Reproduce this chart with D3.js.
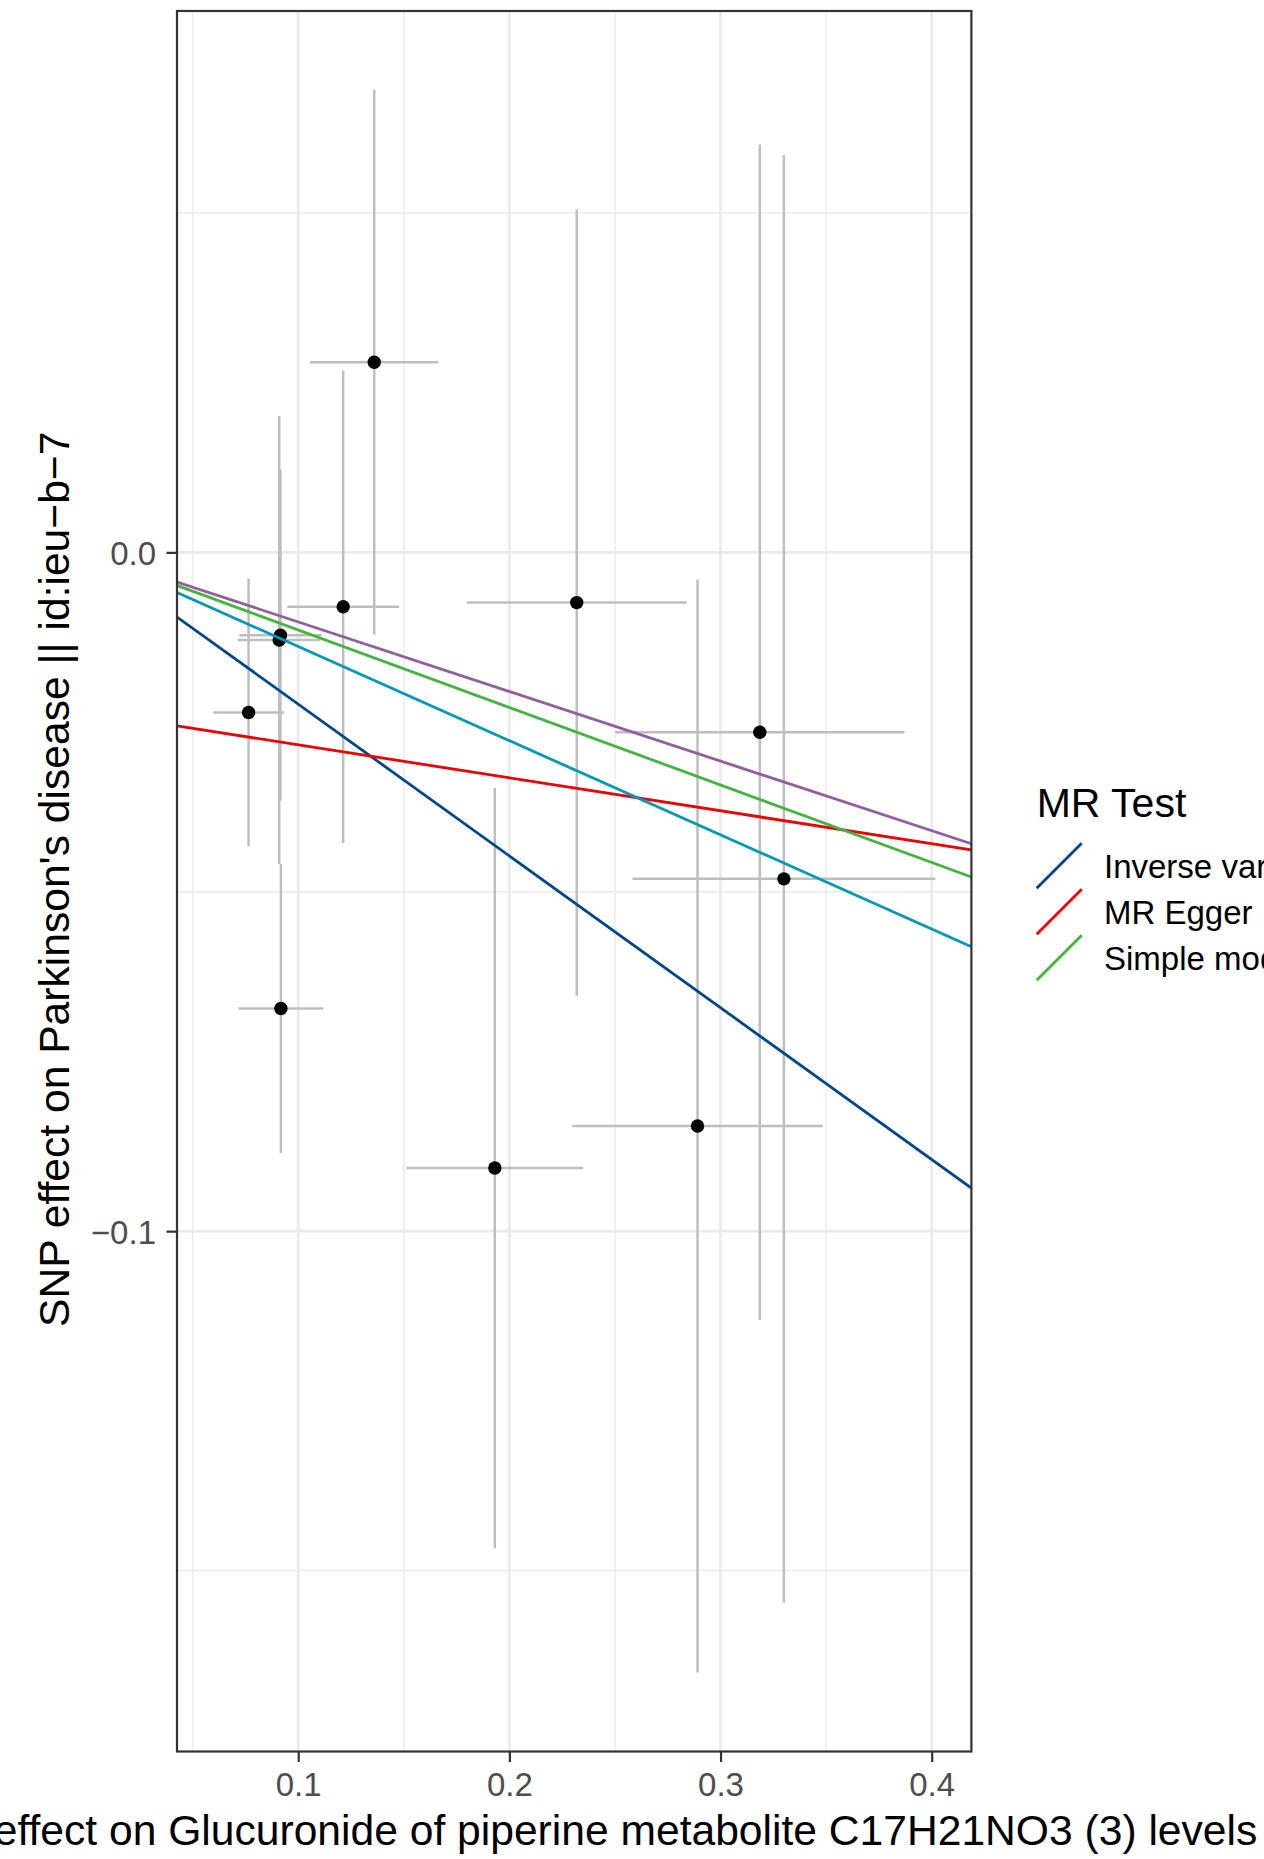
<!DOCTYPE html>
<html>
<head>
<meta charset="utf-8">
<script src="https://cdn.jsdelivr.net/npm/d3@7"></script>
<style>
  html, body { margin: 0; padding: 0; background: #ffffff; overflow: hidden; }
  svg { display: block; font-family: "Liberation Sans", Arial, sans-serif; }
</style>
</head>
<body>
<svg id="chart" width="1264" height="1859"></svg>
<script>
// ---------------- data ----------------
const methods    = ["Inverse variance weighted", "MR Egger", "Simple mode", "Weighted median", "Weighted mode"];
const intercepts = [0, -0.0235, 0, 0, 0];
const slopes     = [-0.2236, -0.04855, -0.1142, -0.1387, -0.1025];
const methodColors = ["#00468B", "#ED0000", "#42B540", "#0099B4", "#925E9F"];

const betaExposure = [0.1360, 0.1213, 0.0910, 0.0916, 0.0765, 0.2319, 0.3186, 0.3300, 0.0918, 0.1931, 0.2891];
const seExposure   = [0.0304, 0.0265, 0.0196, 0.0195, 0.0168, 0.0521, 0.0685, 0.0717, 0.0200, 0.0419, 0.0593];
const betaOutcome  = [0.0280, -0.0080, -0.0129, -0.0122, -0.0236, -0.0074, -0.0265, -0.0481, -0.0672, -0.0907, -0.0845];
const seOutcome    = [0.0401, 0.0348, 0.0330, 0.0244, 0.0197, 0.0579, 0.0866, 0.1066, 0.0213, 0.0560, 0.0805];

const xMajorTicks = [0.1, 0.2, 0.3, 0.4];
const xMinorTicks = [0.05, 0.15, 0.25, 0.35];
const yMajorTicks = [-0.1, 0.0];
const yMinorTicks = [-0.15, -0.05, 0.05];

const xTitle = "SNP effect on Glucuronide of piperine metabolite C17H21NO3 (3) levels";
const yTitle = "SNP effect on Parkinson's disease || id:ieu\u2212b\u22127";
const legendTitle = "MR Test";

// ---------------- layout ----------------
const W = 1264, H = 1859;
const panel = { left: 177, right: 971.4, top: 11, bottom: 1751.5 };

const svg = d3.select("#chart");
svg.append("rect").attr("width", W).attr("height", H).attr("fill", "#ffffff");

const pts = betaExposure.map((bx, i) => ({
  bx, sx: seExposure[i], by: betaOutcome[i], sy: seOutcome[i]
}));

function expand(lo, hi) { const p = (hi - lo) * 0.05; return [lo - p, hi + p]; }
const xDom = expand(d3.min(pts, d => d.bx - d.sx), d3.max(pts, d => d.bx + d.sx));
const yDom = expand(d3.min(pts, d => d.by - d.sy), d3.max(pts, d => d.by + d.sy));

const x = d3.scaleLinear().domain(xDom).range([panel.left, panel.right]);
const y = d3.scaleLinear().domain(yDom).range([panel.bottom, panel.top]);

// clip
svg.append("defs").append("clipPath").attr("id", "panelClip")
  .append("rect")
  .attr("x", panel.left).attr("y", panel.top)
  .attr("width", panel.right - panel.left).attr("height", panel.bottom - panel.top);

const gPanel = svg.append("g").attr("clip-path", "url(#panelClip)");

// grid
const gridColor = "#EBEBEB";
gPanel.selectAll(".xminor").data(xMinorTicks).enter().append("line")
  .attr("x1", d => x(d)).attr("x2", d => x(d))
  .attr("y1", panel.top).attr("y2", panel.bottom)
  .attr("stroke", gridColor).attr("stroke-width", 1.4);
gPanel.selectAll(".yminor").data(yMinorTicks).enter().append("line")
  .attr("y1", d => y(d)).attr("y2", d => y(d))
  .attr("x1", panel.left).attr("x2", panel.right)
  .attr("stroke", gridColor).attr("stroke-width", 1.4);
gPanel.selectAll(".xmajor").data(xMajorTicks).enter().append("line")
  .attr("x1", d => x(d)).attr("x2", d => x(d))
  .attr("y1", panel.top).attr("y2", panel.bottom)
  .attr("stroke", gridColor).attr("stroke-width", 2.8);
gPanel.selectAll(".ymajor").data(yMajorTicks).enter().append("line")
  .attr("y1", d => y(d)).attr("y2", d => y(d))
  .attr("x1", panel.left).attr("x2", panel.right)
  .attr("stroke", gridColor).attr("stroke-width", 2.8);

// error bars
const errColor = "#BEBEBE";
gPanel.selectAll(".ev").data(pts).enter().append("line")
  .attr("x1", d => x(d.bx)).attr("x2", d => x(d.bx))
  .attr("y1", d => y(d.by - d.sy)).attr("y2", d => y(d.by + d.sy))
  .attr("stroke", errColor).attr("stroke-width", 2.5);
gPanel.selectAll(".eh").data(pts).enter().append("line")
  .attr("y1", d => y(d.by)).attr("y2", d => y(d.by))
  .attr("x1", d => x(d.bx - d.sx)).attr("x2", d => x(d.bx + d.sx))
  .attr("stroke", errColor).attr("stroke-width", 2.5);

// points
gPanel.selectAll(".pt").data(pts).enter().append("circle")
  .attr("cx", d => x(d.bx)).attr("cy", d => y(d.by))
  .attr("r", 6.7).attr("fill", "#000000");

// ablines
const lines = methods.map((m, i) => ({ m, a: intercepts[i], b: slopes[i], c: methodColors[i] }));
gPanel.selectAll(".abl").data(lines).enter().append("line")
  .attr("x1", x(xDom[0])).attr("x2", x(xDom[1]))
  .attr("y1", d => y(d.a + d.b * xDom[0])).attr("y2", d => y(d.a + d.b * xDom[1]))
  .attr("stroke", d => d.c).attr("stroke-width", 2.8);

// panel border
svg.append("rect")
  .attr("x", panel.left).attr("y", panel.top)
  .attr("width", panel.right - panel.left).attr("height", panel.bottom - panel.top)
  .attr("fill", "none").attr("stroke", "#333333").attr("stroke-width", 2.2);

// axes
const fmt = d => d3.format(".1f")(d).replace("-", "\u2212");
const xAxis = d3.axisBottom(x).tickValues(xMajorTicks).tickFormat(fmt)
  .tickSizeInner(10.5).tickSizeOuter(0).tickPadding(10.5);
const yAxis = d3.axisLeft(y).tickValues(yMajorTicks).tickFormat(fmt)
  .tickSizeInner(10.5).tickSizeOuter(0).tickPadding(10.5);

const gx = svg.append("g").attr("transform", `translate(0,${panel.bottom})`).call(xAxis);
const gy = svg.append("g").attr("transform", `translate(${panel.left},0)`).call(yAxis);
[gx, gy].forEach(g => {
  g.select(".domain").remove();
  g.selectAll(".tick line").attr("stroke", "#333333").attr("stroke-width", 2.2);
  g.selectAll(".tick text").attr("fill", "#4D4D4D")
    .style("font-size", "33px").style("font-family", "'Liberation Sans', Arial, sans-serif");
});
gy.selectAll(".tick text").attr("dy", "0.36em");

// axis titles
svg.append("text")
  .attr("x", (panel.left + panel.right) / 2 + 2).attr("y", 1845)
  .attr("text-anchor", "middle").attr("fill", "#000000")
  .style("font-size", "42.6px").text(xTitle);
svg.append("text")
  .attr("transform", `translate(68.5,${(panel.top + panel.bottom) / 2 - 2}) rotate(-90)`)
  .attr("text-anchor", "middle").attr("fill", "#000000")
  .style("font-size", "42.6px").text(yTitle);

// legend (2 columns, as in the original; only what fits on the canvas is drawn)
const legX = 1036.7, legTitleY = 817.3, keyTop0 = 843.3, keyH = 46, keyW = 45;
svg.append("text").attr("x", legX).attr("y", legTitleY)
  .attr("fill", "#000000").style("font-size", "41px").text(legendTitle);
const nrow = Math.ceil(methods.length / 2);
const colWidth = 520;
lines.forEach((d, i) => {
  const col = Math.floor(i / nrow), row = i % nrow;
  const kx = legX + col * colWidth;
  if (kx > W) return;
  const ky = keyTop0 + row * keyH;
  svg.append("line")
    .attr("x1", kx).attr("y1", ky + keyW).attr("x2", kx + keyW).attr("y2", ky)
    .attr("stroke", d.c).attr("stroke-width", 2.8);
  svg.append("text").attr("x", kx + 67.3).attr("y", ky + 35)
    .attr("fill", "#000000").style("font-size", "33px").text(d.m);
});
</script>
</body>
</html>
